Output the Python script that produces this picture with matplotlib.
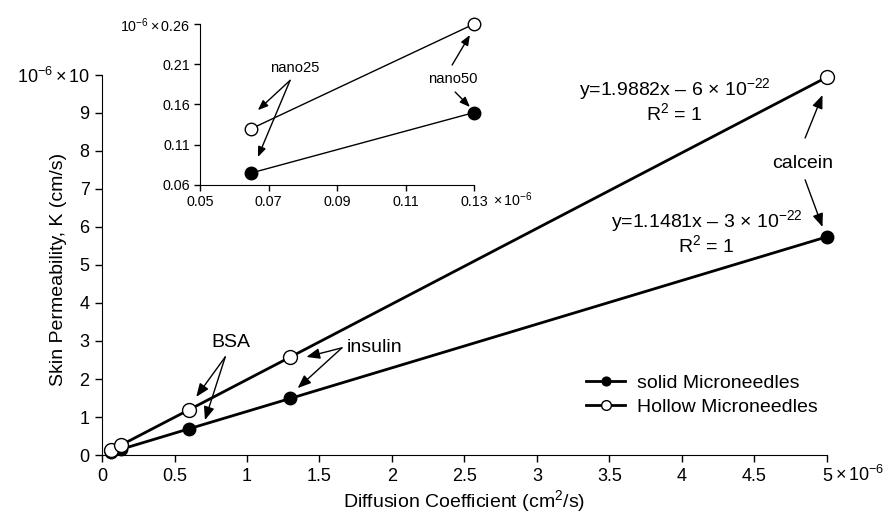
import numpy as np
import matplotlib.pyplot as plt

plt.rcParams['font.family'] = ['Liberation Sans', 'DejaVu Sans']
plt.rcParams['mathtext.fontset'] = 'custom'
plt.rcParams['mathtext.rm'] = 'Liberation Sans'
plt.rcParams['mathtext.it'] = 'Liberation Sans:italic'
plt.rcParams['mathtext.bf'] = 'Liberation Sans:bold'

# === data (units of 1e-6 cm^2/s and 1e-6 cm/s) ===
diff_coef = [0.065, 0.13, 0.6, 1.3, 5.0]
k_solid = [0.075, 0.15, 0.69, 1.49, 5.74]
k_hollow = [0.13, 0.26, 1.19, 2.58, 9.94]

inset_x = [0.065, 0.13]
inset_solid = [0.075, 0.15]
inset_hollow = [0.13, 0.26]

x_ticks = [0, 0.5, 1, 1.5, 2, 2.5, 3, 3.5, 4, 4.5, 5]
y_ticks = list(range(0, 11))
ix_ticks = [0.05, 0.07, 0.09, 0.11, 0.13]
iy_ticks = [0.06, 0.11, 0.16, 0.21, 0.26]

fig = plt.figure(figsize=(8.91, 5.13), dpi=100)
ax = fig.add_axes([0.1145, 0.113, 0.8135, 0.741])

ax.plot(diff_coef, k_solid, '-o', color='k', lw=2, ms=9, mfc='k', mec='k',
        clip_on=False, zorder=3, label='solid Microneedles')
ax.plot(diff_coef, k_hollow, '-o', color='k', lw=2, ms=10, mfc='white', mec='k',
        mew=1, clip_on=False, zorder=3, label='Hollow Microneedles')

ax.set_xlim(0, 5)
ax.set_ylim(0, 10)
ax.set_xticks(x_ticks)
ax.set_xticklabels([f'{t:g}' for t in x_ticks])
ax.set_yticks(y_ticks)
ylabs = [str(t) for t in y_ticks]
ylabs[-1] = r'$10^{-6}\times$10'
ax.set_yticklabels(ylabs)
ax.annotate(r'$\times\,10^{-6}$', xy=(1, 0), xycoords='axes fraction',
            xytext=(6, -7), textcoords='offset points', ha='left', va='top', fontsize=13)
for s in ['top', 'right']:
    ax.spines[s].set_visible(False)
ax.tick_params(direction='out', length=5, width=1, labelsize=13, pad=4)
ax.set_xlabel('Diffusion Coefficient (cm$^2$/s)', fontsize=14)
ax.xaxis.set_label_coords(0.5, -0.12)
ax.xaxis.label.set_va('center')
ax.set_ylabel('Skin Permeability, K (cm/s)', fontsize=14)
ax.yaxis.set_label_coords(-0.0607, 0.487)
ax.yaxis.label.set_va('center')

arrow = dict(arrowstyle='-|>,head_length=0.5,head_width=0.2', color='k', lw=1,
             mutation_scale=16, shrinkA=0, shrinkB=0)

# annotations in main plot
ax.text(0.89, 2.97, 'BSA', fontsize=14, ha='center', va='center')
ax.annotate('', xy=(0.65, 1.53), xytext=(0.85, 2.58), arrowprops=arrow)
ax.annotate('', xy=(0.71, 0.92), xytext=(0.85, 2.58), arrowprops=arrow)

ax.text(1.88, 2.84, 'insulin', fontsize=14, ha='center', va='center')
ax.annotate('', xy=(1.41, 2.58), xytext=(1.655, 2.82), arrowprops=arrow)
ax.annotate('', xy=(1.35, 1.76), xytext=(1.655, 2.82), arrowprops=arrow)

ax.text(4.83, 7.68, 'calcein', fontsize=14, ha='center', va='center')
ax.annotate('', xy=(4.97, 9.47), xytext=(4.85, 8.34), arrowprops=arrow)
ax.annotate('', xy=(4.97, 6.0), xytext=(4.85, 7.24), arrowprops=arrow)

ax.text(3.95, 9.63, r'y=1.9882x – 6 $\times$ 10$^{-22}$', fontsize=14, ha='center', va='center')
ax.text(3.95, 8.99, r'R$^2$ = 1', fontsize=14, ha='center', va='center')
ax.text(4.17, 6.16, r'y=1.1481x – 3 $\times$ 10$^{-22}$', fontsize=14, ha='center', va='center')
ax.text(4.17, 5.52, r'R$^2$ = 1', fontsize=14, ha='center', va='center')

ax.legend(loc='center left', bbox_to_anchor=(0.647, 0.23), bbox_transform=fig.transFigure,
          frameon=False, fontsize=14, handlelength=2.0, handletextpad=0.6,
          labelspacing=0.36, borderpad=0, markerscale=0.7)

# === inset ===
ins = fig.add_axes([0.2245, 0.6394, 0.3075, 0.3138])
ins.patch.set_alpha(0)
ins.plot(inset_x, inset_solid, '-o', color='k', lw=1, ms=9, mfc='k', mec='k',
         clip_on=False, zorder=3)
ins.plot(inset_x, inset_hollow, '-o', color='k', lw=1, ms=9, mfc='white', mec='k',
         mew=1, clip_on=False, zorder=3)
ins.set_xlim(0.05, 0.13)
ins.set_ylim(0.06, 0.26)
ins.set_xticks(ix_ticks)
ins.set_xticklabels([f'{t:.2f}' for t in ix_ticks])
ins.set_yticks(iy_ticks)
iylabs = [f'{t:.2f}' for t in iy_ticks]
iylabs[-1] = r'$10^{-6}\times$0.26'
ins.set_yticklabels(iylabs)
ins.annotate(r'$\times\,10^{-6}$', xy=(1, 0), xycoords='axes fraction',
             xytext=(14, -4), textcoords='offset points', ha='left', va='top', fontsize=10.3)
for s in ['top', 'right']:
    ins.spines[s].set_visible(False)
ins.tick_params(direction='out', length=4, width=1, labelsize=10.3, pad=3)

arrow_s = dict(arrowstyle='-|>,head_length=0.5,head_width=0.2', color='k', lw=1,
               mutation_scale=12, shrinkA=0, shrinkB=0)
ins.text(0.0777, 0.2053, 'nano25', fontsize=10.6, ha='center', va='center')
ins.annotate('', xy=(0.0669, 0.153), xytext=(0.0763, 0.19), arrowprops=arrow_s)
ins.annotate('', xy=(0.0669, 0.0948), xytext=(0.0763, 0.19), arrowprops=arrow_s)

ins.text(0.1239, 0.1917, 'nano50', fontsize=10.6, ha='center', va='center')
ins.annotate('', xy=(0.1288, 0.2463), xytext=(0.1236, 0.209), arrowprops=arrow_s)
ins.annotate('', xy=(0.1288, 0.1569), xytext=(0.1245, 0.1755), arrowprops=arrow_s)

fig.savefig('out.png', dpi=100)
